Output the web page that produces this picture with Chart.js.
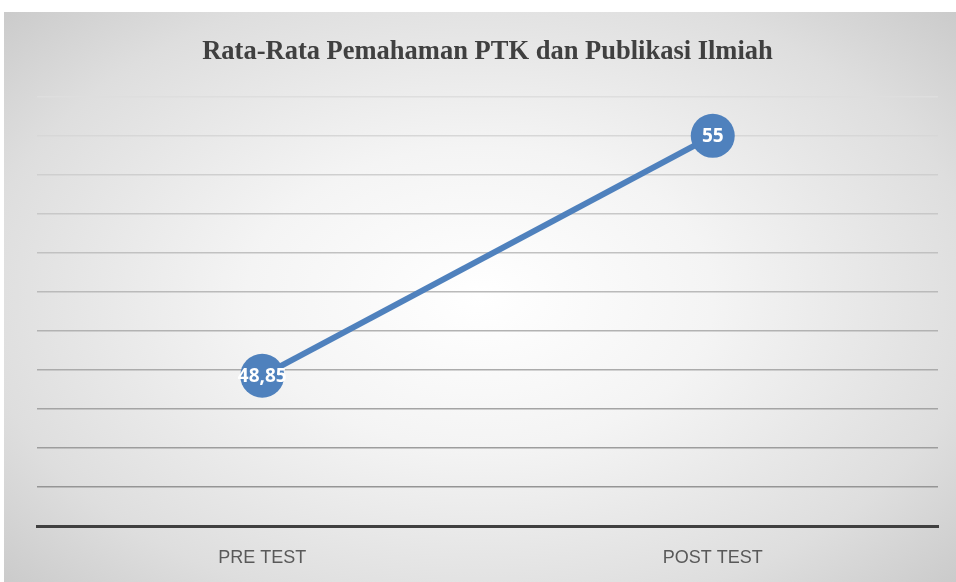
<!DOCTYPE html>
<html>
<head>
<meta charset="utf-8">
<script src="https://cdn.jsdelivr.net/npm/chart.js@4.4.0/dist/chart.umd.min.js"></script>
<style>
  html, body { margin:0; padding:0; background:#fff; }
  #wrap { position:relative; width:956px; height:582px; }
  #bg { position:absolute; left:4px; top:12px; width:952px; height:570px;
        background: radial-gradient(ellipse 70% 75% at 50% 50%, #ffffff 0%, #f4f4f4 35%, #dedede 75%, #c9c9c9 100%); }
  #c { position:absolute; left:0; top:0; }
</style>
</head>
<body>
<div id="wrap">
  <div id="bg"></div>
  <canvas id="c" width="956" height="582"></canvas>
</div>
<script>
// chart data
const CATEGORIES = ["PRE TEST", "POST TEST"];
const AVERAGES = [48.85, 55];
const Y_MIN = 45, Y_MAX = 56;

// grid lines get darker toward the bottom, like the original
function gridColor(ctx) {
  const v = ctx.tick ? ctx.tick.value : Y_MIN;
  if (v === Y_MIN) return 'rgba(0,0,0,0)';
  const t = (Y_MAX - v) / (Y_MAX - Y_MIN); // 0 top .. 1 bottom
  const g = Math.round(222 - t * 80);
  return `rgb(${g},${g},${g})`;
}

// write the values in the middle of each marker
const valueLabels = {
  id: 'valueLabels',
  afterDatasetsDraw(chart) {
    const ctx = chart.ctx;
    const meta = chart.getDatasetMeta(0);
    ctx.save();
    ctx.fillStyle = '#ffffff';
    ctx.font = 'bold 19px "Open Sans", "Liberation Sans", sans-serif';
    ctx.textAlign = 'center';
    ctx.textBaseline = 'middle';
    meta.data.forEach((pt, i) => {
      const txt = String(AVERAGES[i]).replace('.', ',');
      ctx.fillText(txt, pt.x, pt.y + 1);
    });
    ctx.restore();
  }
};

new Chart(document.getElementById('c'), {
  type: 'line',
  data: {
    labels: CATEGORIES,
    datasets: [{
      data: AVERAGES,
      borderColor: '#4f81bd',
      backgroundColor: '#4f81bd',
      borderWidth: 6,
      pointRadius: 22,
      pointHoverRadius: 22,
      pointBorderWidth: 0,
      pointBackgroundColor: '#4f81bd',
      tension: 0
    }]
  },
  options: {
    responsive: false,
    animation: false,
    layout: { autoPadding: false, padding: { left: 37, right: 18, top: 0, bottom: 0 } },
    plugins: {
      legend: { display: false },
      tooltip: { enabled: false },
      title: {
        display: true,
        fullSize: false,
        text: 'Rata-Rata Pemahaman PTK dan Publikasi Ilmiah',
        color: '#404040',
        font: { family: '"Liberation Serif", "Times New Roman", serif', size: 26.5, weight: 'bold' },
        padding: { top: 36, bottom: 29 }
      }
    },
    scales: {
      x: {
        offset: true,
        grid: { display: false },
        border: { display: true, color: '#404040', width: 3 },
        ticks: {
          color: '#595959',
          padding: 13,
          font: { family: '"Liberation Sans", sans-serif', size: 18 }
        },
        afterFit(scale) { scale.height = 56; }
      },
      y: {
        min: Y_MIN,
        max: Y_MAX,
        ticks: { display: false, stepSize: 1 },
        border: { display: false },
        grid: { color: gridColor, lineWidth: 1.5, drawTicks: false }
      }
    }
  },
  plugins: [valueLabels]
});
</script>
</body>
</html>
